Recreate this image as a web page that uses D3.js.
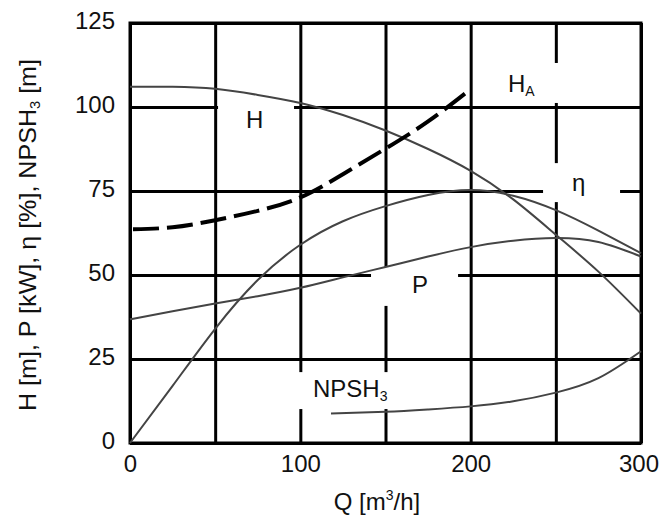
<!DOCTYPE html>
<html><head><meta charset="utf-8">
<script src="https://cdn.jsdelivr.net/npm/d3@7"></script>
<style>
body{margin:0;background:#fff}
text{font-family:"Liberation Sans",Arial,sans-serif;fill:#111}
</style>
</head><body>
<svg id="chart" width="660" height="515"></svg>
<script>
// ---- data ----
const flowQ   = [0, 25, 50, 75, 100, 125, 150, 175, 200, 225, 250, 275, 300];
const headH   = [106, 106, 105.4, 103.6, 101.2, 97.6, 93, 87.5, 81, 72.5, 62, 51, 38.5];
const effEta  = [0, 17, 34, 48.5, 59, 66, 70.5, 73.8, 75.3, 73.6, 69.3, 63.2, 56.5];
const powerP  = [36.8, 39.2, 41.5, 43.7, 46.2, 49.3, 52.4, 55.5, 58.3, 60.2, 61, 59.8, 55.5];
const flowQA  = [0, 25, 50, 75, 100, 125, 150, 175, 200];
const systemHA = [63.6, 64.2, 66.3, 69.1, 73.1, 80, 87.6, 95.7, 105.3];
const flowQN  = [118, 150, 175, 200, 225, 250, 275, 300];
const npsh3   = [8.8, 9.3, 10, 10.9, 12.4, 15, 19.3, 27.3];
const xTickLabels = [0, 100, 200, 300];
const yTickLabels = [0, 25, 50, 75, 100, 125];
const xGrid = [0, 50, 100, 150, 200, 250, 300];
const yGrid = [0, 25, 50, 75, 100, 125];
// curve labels (start Q, baseline value) and the white gaps cut in the grid around them
const labelNames = ["H", "HA", "η", "P", "NPSH3"];
const labelMain  = ["H", "H", "η", "P", "NPSH"];
const labelSub   = ["", "A", "", "", "3"];
const labelQ     = [68.1, 221.9, 259.5, 165.6, 107.4];
const labelV     = [93.75, 104.6, 75, 44.6, 13.8];
const gapQ0 = [51.7, 208.4, 242.5, 141.5, 97.5];
const gapQ1 = [96.3, 261.3, 287.7, 192.6, 156.2];
const gapV0 = [94.3, 101.2, 71.7, 40.8, 10.1];
const gapV1 = [102.1, 113.1, 83.3, 52.4, 21.1];

const svg = d3.select("#chart");
const x = d3.scaleLinear().domain([0, 300]).range([130, 641]);
const y = d3.scaleLinear().domain([0, 125]).range([443, 23]);

// grid
const gx = svg.append("g").attr("transform", `translate(0,${y(0)})`)
  .call(d3.axisBottom(x).tickValues(xGrid).tickSize(-(y(0) - y(125))).tickFormat(""));
const gy = svg.append("g").attr("transform", `translate(${x(0)},0)`)
  .call(d3.axisLeft(y).tickValues(yGrid).tickSize(-(x(300) - x(0))).tickFormat(""));
[gx, gy].forEach(g => {
  g.select(".domain").remove();
  g.selectAll("line").attr("stroke", "#000").attr("stroke-width", 3);
});
svg.append("rect").attr("x", x(0)).attr("y", y(125))
  .attr("width", x(300) - x(0)).attr("height", y(0) - y(125))
  .attr("fill", "none").attr("stroke", "#000").attr("stroke-width", 3);

// white gaps behind labels
svg.append("g").selectAll("rect").data(labelNames).join("rect")
  .attr("x", (d, i) => x(gapQ0[i])).attr("y", (d, i) => y(gapV1[i]))
  .attr("width", (d, i) => x(gapQ1[i]) - x(gapQ0[i]))
  .attr("height", (d, i) => y(gapV0[i]) - y(gapV1[i]))
  .attr("fill", "#fff");

// tick labels
const ax = svg.append("g").attr("transform", `translate(0,${y(0)})`)
  .call(d3.axisBottom(x).tickValues(xTickLabels).tickSize(0).tickPadding(12));
const ay = svg.append("g").attr("transform", `translate(${x(0)},0)`)
  .call(d3.axisLeft(y).tickValues(yTickLabels).tickSize(0).tickPadding(15));
[ax, ay].forEach(g => {
  g.select(".domain").remove();
  g.selectAll("text").attr("font-size", 24).attr("font-family", '"Liberation Sans",Arial,sans-serif').attr("fill", "#111");
});
ay.selectAll("text").attr("dy", "0.21em");
ax.selectAll("text").filter(d => d === 300).attr("dx", -2.5);

// curves
const line = (xs, ys) => d3.line().x((d, i) => x(xs[i])).y(d => y(d)).curve(d3.curveNatural)(ys);
const curveColor = "#444";
[[flowQ, headH], [flowQ, effEta], [flowQ, powerP], [flowQN, npsh3]].forEach(([xs, ys]) => {
  svg.append("path").attr("d", line(xs, ys)).attr("fill", "none")
    .attr("stroke", curveColor).attr("stroke-width", 2);
});
svg.append("path").attr("d", line(flowQA, systemHA)).attr("fill", "none")
  .attr("stroke", "#000").attr("stroke-width", 4)
  .attr("stroke-dasharray", "26 8").attr("stroke-dashoffset", 31);

// curve labels
const lg = svg.append("g").selectAll("text").data(labelNames).join("text")
  .attr("x", (d, i) => x(labelQ[i])).attr("y", (d, i) => y(labelV[i]))
  .attr("font-size", 24);
lg.append("tspan").text((d, i) => labelMain[i]);
lg.filter((d, i) => labelSub[i] !== "").append("tspan")
  .attr("font-size", 14).attr("dy", 4)
  .text(d => labelSub[labelNames.indexOf(d)]);

// axis titles
const xt = svg.append("text").attr("x", 377).attr("y", 510).attr("text-anchor", "middle").attr("font-size", 24);
xt.append("tspan").text("Q [m");
xt.append("tspan").attr("font-size", 14).attr("dy", -10).text("3");
xt.append("tspan").attr("dy", 10).text("/h]");

const yt = svg.append("text").attr("transform", "translate(36,235) rotate(-90)")
  .attr("text-anchor", "middle").attr("font-size", 24)
  .attr("textLength", 352).attr("lengthAdjust", "spacingAndGlyphs");
yt.append("tspan").text("H [m], P [kW], η [%], NPSH");
yt.append("tspan").attr("font-size", 14).attr("dy", 4).text("3");
yt.append("tspan").attr("dy", -4).text(" [m]");
</script>
</body></html>
